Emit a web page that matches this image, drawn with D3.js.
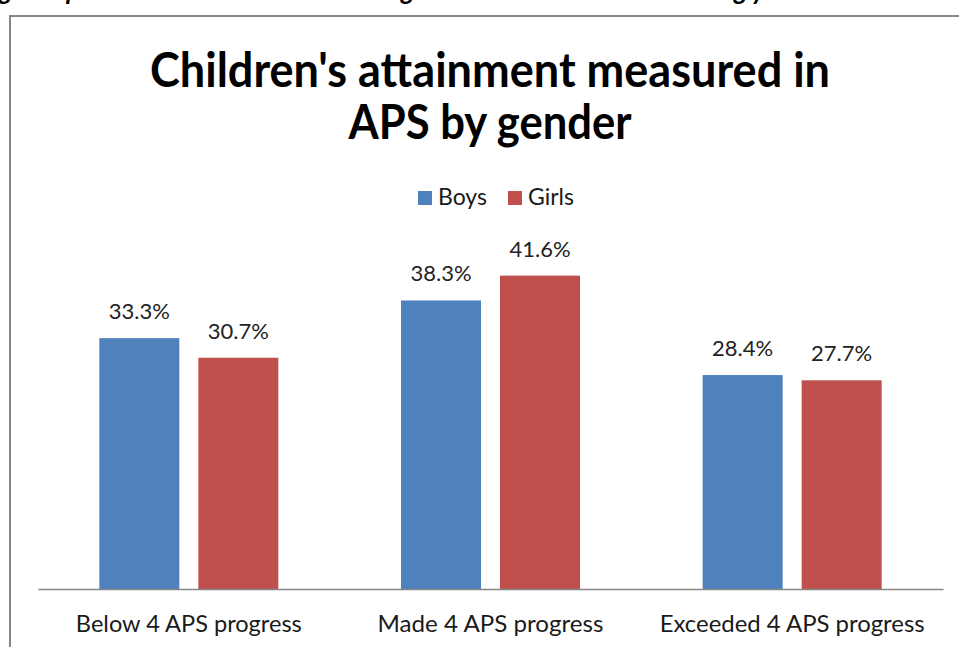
<!DOCTYPE html>
<html>
<head>
<meta charset="utf-8">
<script src="https://cdn.jsdelivr.net/npm/d3@7"></script>
<style>
  body { margin: 0; background: #fff; }
  text { font-family: Lato, "Open Sans", sans-serif; }
</style>
</head>
<body>
<div id="chart"></div>
<script>
const categories = ["Below 4 APS progress", "Made 4 APS progress", "Exceeded 4 APS progress"];
const series = ["Boys", "Girls"];
const boys = [33.3, 38.3, 28.4];
const girls = [30.7, 41.6, 27.7];
const colors = ["#4f81bd", "#c0504d"];
const titleLines = ["Children's attainment measured in", "APS by gender"];

const width = 959, height = 647;
const baseY = 589, left = 38, right = 943;

const svg = d3.select("#chart").append("svg")
    .attr("width", width)
    .attr("height", height);

svg.append("rect")
    .attr("width", width)
    .attr("height", height)
    .attr("fill", "#fff");

// bits of the cut-off caption above the chart
const cap = svg.append("text")
    .attr("y", 0)
    .style("font-size", "26px")
    .style("font-weight", "bold")
    .style("font-style", "italic")
    .attr("fill", "#000");
[["g", -1], ["p", 66], ["g", 401], ["g", 734], ["y", 752]].forEach(d => {
    cap.append("tspan").attr("x", d[1]).text(d[0]);
});

// chart frame
svg.append("rect")
    .attr("x", 10)
    .attr("y", 16)
    .attr("width", 1000)
    .attr("height", 700)
    .attr("fill", "#fff")
    .attr("stroke", "#868686")
    .attr("stroke-width", 2);

// title
titleLines.forEach((t, i) => {
    svg.append("text")
        .attr("x", 490)
        .attr("y", 87 + i * 52)
        .attr("text-anchor", "middle")
        .attr("textLength", i === 0 ? 680 : 283)
        .attr("lengthAdjust", "spacingAndGlyphs")
        .style("font-size", "48px")
        .style("font-weight", "bold")
        .attr("fill", "#000")
        .text(t);
});

const x = d3.scaleBand()
    .domain(categories)
    .range([left, right])
    .padding(0);

const pairW = 179;
const xSub = d3.scaleBand()
    .domain(series)
    .range([(x.bandwidth() - pairW) / 2, (x.bandwidth() + pairW) / 2])
    .paddingInner(0.192)
    .paddingOuter(0);

const y = d3.scaleLinear()
    .domain([0, 45])
    .range([baseY, 250]);

const rows = categories.map((c, i) => ({ cat: c, vals: [boys[i], girls[i]] }));

const groups = svg.selectAll("g.cat")
    .data(rows)
    .join("g")
    .attr("class", "cat")
    .attr("transform", d => `translate(${x(d.cat)},0)`);

groups.selectAll("rect")
    .data(d => d.vals.map((v, j) => ({ s: series[j], v: v, j: j })))
    .join("rect")
    .attr("x", d => xSub(d.s))
    .attr("y", d => y(d.v))
    .attr("width", xSub.bandwidth())
    .attr("height", d => baseY - y(d.v))
    .attr("fill", d => colors[d.j]);

groups.selectAll("text.val")
    .data(d => d.vals.map((v, j) => ({ s: series[j], v: v })))
    .join("text")
    .attr("class", "val")
    .attr("x", d => xSub(d.s) + xSub.bandwidth() / 2)
    .attr("y", d => y(d.v) - 19)
    .attr("text-anchor", "middle")
    .style("font-size", "22px")
    .attr("fill", "#222")
    .text(d => d.v.toFixed(1) + "%");

// x axis
const xAxis = svg.append("g")
    .attr("transform", `translate(0,${baseY})`)
    .call(d3.axisBottom(x).tickSize(0).tickPadding(0));
xAxis.select(".domain")
    .attr("stroke", "#868686")
    .attr("stroke-width", 1.5);
xAxis.selectAll(".tick text")
    .attr("y", 43)
    .attr("dy", 0)
    .attr("fill", "#1a1a1a")
    .style("font-size", "24px")
    .style("font-family", "Lato, 'Open Sans', sans-serif")
    .attr("textLength", (d, i) => [226, 226, 265][i])
    .attr("lengthAdjust", "spacingAndGlyphs");

// legend
const legendX = [418, 508];
const legend = svg.selectAll("g.leg")
    .data(series)
    .join("g")
    .attr("class", "leg")
    .attr("transform", (d, i) => `translate(${legendX[i]},191)`);
legend.append("rect")
    .attr("width", 14)
    .attr("height", 14)
    .attr("fill", (d, i) => colors[i]);
legend.append("text")
    .attr("x", 20)
    .attr("y", 14)
    .style("font-size", "23px")
    .attr("fill", "#1a1a1a")
    .text(d => d);
</script>
</body>
</html>
